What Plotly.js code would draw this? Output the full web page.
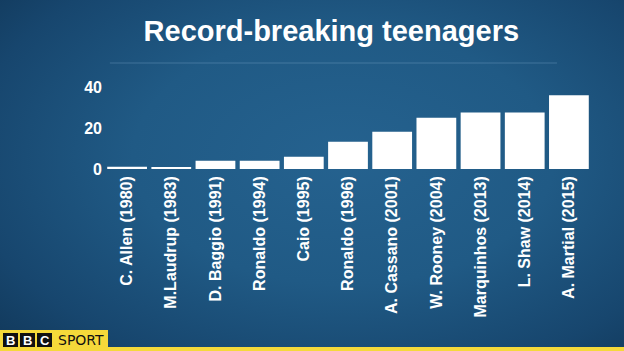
<!DOCTYPE html>
<html>
<head>
<meta charset="utf-8">
<script src="https://cdn.plot.ly/plotly-3.0.1.min.js"></script>
<style>
html,body{margin:0;padding:0;width:624px;height:351px;overflow:hidden;}
body{background:radial-gradient(ellipse 75% 80% at 55% 45%, #25628f 0%, #205a85 45%, #17466e 80%, #11385a 100%);}
#chart{width:624px;height:351px;}
</style>
</head>
<body>
<div id="chart"></div>
<script>
const categories = ["C. Allen (1980)", "M.Laudrup (1983)", "D. Baggio (1991)", "Ronaldo (1994)", "Caio (1995)", "Ronaldo (1996)", "A. Cassano (2001)", "W. Rooney (2004)", "Marquinhos (2013)", "L. Shaw (2014)", "A. Martial (2015)"];
const values = [1.1, 1, 4, 4, 6, 13.3, 18.2, 25, 27.5, 27.5, 36];
const yTicks = [0, 20, 40];
const titleText = "Record-breaking teenagers";

const font = "Liberation Sans, Arial, sans-serif";

const trace = {
  type: "bar",
  x: categories,
  y: values,
  marker: {color: "#ffffff", line: {width: 0}},
  hoverinfo: "none"
};

const layout = {
  width: 624, height: 351,
  margin: {l: 105, r: 33, t: 80, b: 182, pad: 0},
  paper_bgcolor: "rgba(0,0,0,0)",
  plot_bgcolor: "rgba(0,0,0,0)",
  showlegend: false,
  bargap: 0.1,
  title: {
    text: titleText,
    font: {family: font, size: 29, color: "#ffffff", weight: 700},
    x: 0.531, xanchor: "center", y: 0.912, yanchor: "middle"
  },
  xaxis: {
    type: "category",
    tickangle: -90,
    tickfont: {family: font, size: 16, color: "#ffffff", weight: 700},
    showgrid: false, showline: false, zeroline: false, ticks: "",
    ticklabelstandoff: 3
  },
  yaxis: {
    range: [0, 43.4],
    tickvals: yTicks,
    ticktext: yTicks.map(String),
    tickfont: {family: font, size: 16, color: "#ffffff", weight: 700},
    showgrid: false, showline: false, zeroline: false, ticks: "",
    ticklabelstandoff: 2
  },
  shapes: [
    {type: "line", xref: "paper", yref: "paper", x0: 0.01, x1: 0.93, y0: 1 + 17/89, y1: 1 + 17/89,
     line: {color: "rgba(150,190,220,0.3)", width: 1}},
    {type: "rect", xref: "paper", yref: "paper", x0: -105/486, x1: 519/486, y0: -182/89, y1: -178/89,
     fillcolor: "#f5d93a", line: {width: 0}, layer: "above"},
    {type: "rect", xref: "paper", yref: "paper", x0: -105/486, x1: (108-105)/486, y0: -182/89, y1: -(330-169)/89,
     fillcolor: "#f5d93a", line: {width: 0}, layer: "above"},
    {type: "rect", xref: "paper", yref: "paper", x0: (3-105)/486, x1: (18-105)/486, y0: -(347-169)/89, y1: -(333-169)/89,
     fillcolor: "#111111", line: {width: 0}, layer: "above"},
    {type: "rect", xref: "paper", yref: "paper", x0: (20-105)/486, x1: (35-105)/486, y0: -(347-169)/89, y1: -(333-169)/89,
     fillcolor: "#111111", line: {width: 0}, layer: "above"},
    {type: "rect", xref: "paper", yref: "paper", x0: (37-105)/486, x1: (52-105)/486, y0: -(347-169)/89, y1: -(333-169)/89,
     fillcolor: "#111111", line: {width: 0}, layer: "above"}
  ],
  annotations: [
    {text: "B", xref: "paper", yref: "paper", x: (10.5-105)/486, y: -(340-169)/89, showarrow: false,
     font: {family: font, size: 13, color: "#ffffff", weight: 700}, xanchor: "center", yanchor: "middle"},
    {text: "B", xref: "paper", yref: "paper", x: (27.5-105)/486, y: -(340-169)/89, showarrow: false,
     font: {family: font, size: 13, color: "#ffffff", weight: 700}, xanchor: "center", yanchor: "middle"},
    {text: "C", xref: "paper", yref: "paper", x: (44.5-105)/486, y: -(340-169)/89, showarrow: false,
     font: {family: font, size: 13, color: "#ffffff", weight: 700}, xanchor: "center", yanchor: "middle"},
    {text: "SPORT", xref: "paper", yref: "paper", x: (56-105)/486, y: -(340-169)/89, showarrow: false,
     font: {family: "DejaVu Sans, sans-serif", size: 14, color: "#111111"}, xanchor: "left", yanchor: "middle"}
  ]
};

Plotly.newPlot("chart", [trace], layout, {displayModeBar: false, staticPlot: true});
</script>
</body>
</html>
